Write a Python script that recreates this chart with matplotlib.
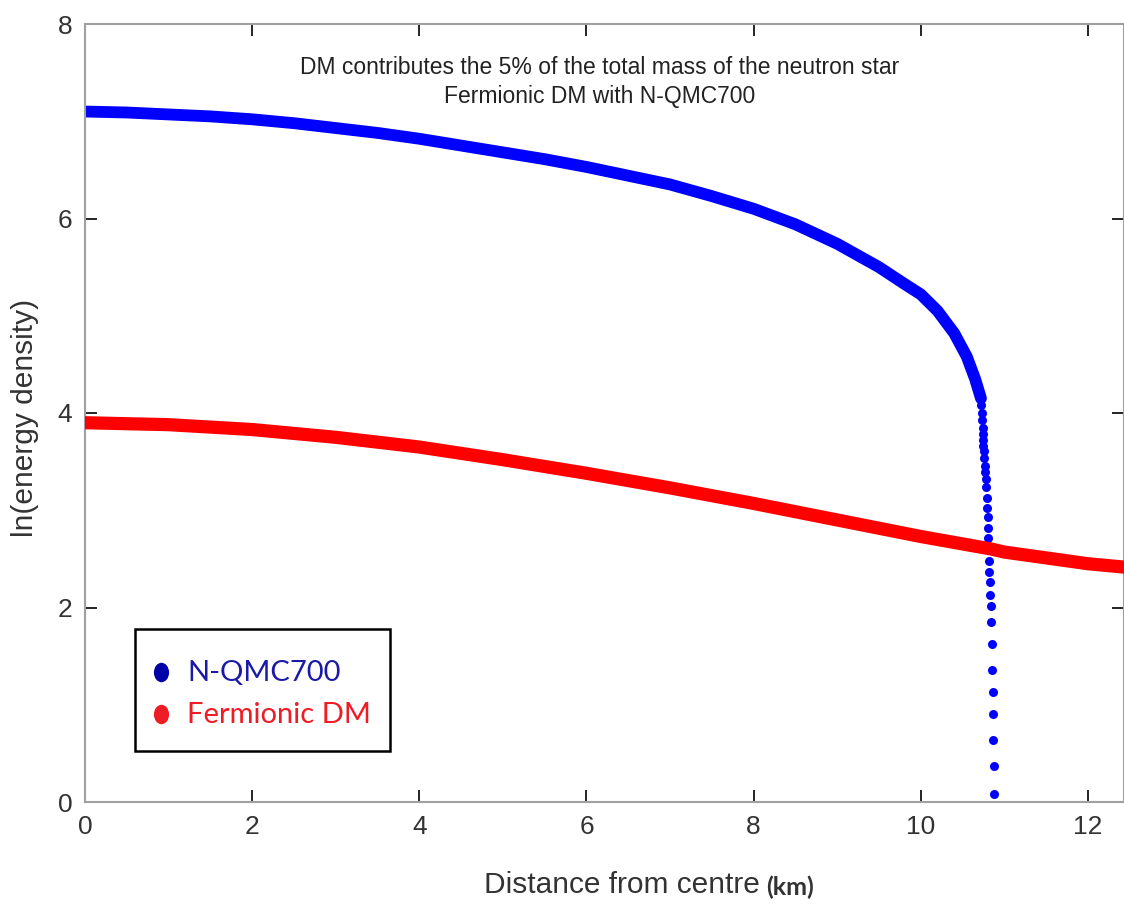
import matplotlib
matplotlib.use("Agg")
import matplotlib.pyplot as plt
from matplotlib.patches import Rectangle
from matplotlib.path import Path
from matplotlib.transforms import Affine2D

# N-QMC700 (dense part of the profile)
nqmc_r = [0, 0.5, 1, 1.5, 2, 2.5, 3, 3.5, 4, 4.5, 5, 5.5, 6, 6.5, 7, 7.5,
          8, 8.5, 9, 9.5, 9.8, 10.0, 10.2, 10.4, 10.55, 10.65, 10.72]
nqmc_e = [7.10, 7.09, 7.07, 7.05, 7.02, 6.98, 6.93, 6.88, 6.82, 6.75, 6.68,
          6.61, 6.53, 6.44, 6.35, 6.23, 6.10, 5.94, 5.74, 5.50, 5.33, 5.22,
          5.05, 4.82, 4.58, 4.35, 4.15]

# N-QMC700 surface tail (separate dots)
tail_r = [10.72, 10.73, 10.73, 10.74, 10.74, 10.75, 10.75, 10.76, 10.76,
          10.77, 10.77, 10.78, 10.78, 10.79, 10.79, 10.80, 10.80, 10.81,
          10.81, 10.82, 10.82, 10.83, 10.83, 10.84, 10.84, 10.85, 10.85,
          10.86, 10.86, 10.86, 10.87]
tail_e = [4.08, 4.00, 3.93, 3.85, 3.78, 3.72, 3.66, 3.61, 3.54, 3.46, 3.39,
          3.32, 3.24, 3.13, 3.02, 2.93, 2.82, 2.71, 2.60, 2.48, 2.37, 2.26,
          2.13, 2.02, 1.85, 1.62, 1.36, 1.13, 0.91, 0.64, 0.37]
tail_r += [10.87]
tail_e += [0.08]

# Fermionic DM
dm_r = [0, 1, 2, 3, 4, 5, 6, 7, 8, 9, 10, 10.85, 11, 12, 12.5]
dm_e = [3.90, 3.88, 3.83, 3.75, 3.65, 3.52, 3.38, 3.23, 3.07, 2.90, 2.73,
        2.60, 2.57, 2.45, 2.41]

x_ticks = [0, 2, 4, 6, 8, 10, 12]
y_ticks = [0, 2, 4, 6, 8]

W, H = 1124, 907
fig = plt.figure(figsize=(W / 100, H / 100), dpi=100)
ax = fig.add_axes([85 / W, 1 - 802 / H, (W - 85) / W, (802 - 24) / H])

ax.plot(nqmc_r, nqmc_e, color="#0000ff", lw=8.5, solid_capstyle="round", zorder=2)
ax.plot(tail_r, tail_e, "o", color="#0000ff", ms=6.5, mew=0, zorder=2)
ax.plot(dm_r, dm_e, color="#ff0000", lw=9.5, solid_capstyle="round", zorder=3)

ax.set_xlim(0, (W - 85) / 83.58)
ax.set_ylim(0, 8)
ax.set_xticks(x_ticks)
ax.set_yticks(y_ticks)

tick_font = ["Liberation Sans Narrow", "Liberation Sans"]
ax.tick_params(direction="in", length=8.6, width=1.2, color="black",
               top=True, right=True, labelsize=19, labelcolor="#333333", pad=9)
for lab in ax.get_xticklabels() + ax.get_yticklabels():
    lab.set_family(tick_font)
for s in ax.spines.values():
    s.set_color("#a0a0a0")
    s.set_linewidth(1.5)

# title lines
fig.text(600 / W, 1 - 68 / H, "DM contributes the 5% of the total mass of the neutron star",
         ha="center", va="center", fontsize=16.5, family=tick_font, color="#222222")
fig.text(600 / W, 1 - 97 / H, "Fermionic DM with N-QMC700",
         ha="center", va="center", fontsize=16.5, family=tick_font, color="#222222")

# axis labels
fig.text(25 / W, 1 - 418 / H, "ln(energy density)", rotation=90, ha="center",
         va="center", fontsize=21.5, family="Liberation Sans", color="#333333")
fig.text(760 / W, 1 - 885 / H, "Distance from centre", ha="right", va="center",
         fontsize=21.5, family="Liberation Sans", color="#333333")
fig.text(766 / W, 1 - 887 / H, "(km)", ha="left", va="center",
         fontsize=18, family="Lato", fontweight="bold", color="#333333")

# legend box drawn by hand
def fx(px):
    return (px - 85) / (W - 85)

def fy(py):
    return (802 - py) / (802 - 24)

oval = Path.unit_circle().transformed(Affine2D().scale(0.78, 1.0))

ax.add_patch(Rectangle((fx(135), fy(751)), fx(390) - fx(135), fy(629) - fy(751),
                       transform=ax.transAxes, fill=False, edgecolor="black",
                       lw=1.8, zorder=5))
ax.plot([fx(161)], [fy(672)], marker=oval, color="#0000a8", ms=14, mew=0,
        transform=ax.transAxes, zorder=6, clip_on=False)
ax.plot([fx(161)], [fy(714)], marker=oval, color="#ee1c24", ms=14, mew=0,
        transform=ax.transAxes, zorder=6, clip_on=False)
ax.text(fx(187), fy(673), "N-QMC700", transform=ax.transAxes, ha="left",
        va="center", fontsize=21, family="Lato", color="#1a1aa6", zorder=6)
ax.text(fx(187), fy(715), "Fermionic DM", transform=ax.transAxes, ha="left",
        va="center", fontsize=21, family="Lato", color="#ee1c24", zorder=6)

fig.savefig("out.png", dpi=100)
